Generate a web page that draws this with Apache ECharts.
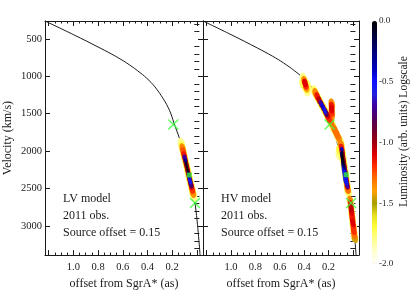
<!DOCTYPE html>
<html><head><meta charset="utf-8">
<script src="https://cdn.jsdelivr.net/npm/echarts@6/dist/echarts.min.js"></script>
<style>html,body{margin:0;padding:0;background:#fff}#c{width:414px;height:295px}</style>
</head><body><div id="c"></div>
<script>
// ---- data ----
const curveOffset   = [1.23, 1.0, 0.784, 0.66, 0.568, 0.48, 0.406, 0.34, 0.272, 0.22, 0.185, 0.123, 0.069, 0.015, -0.026];
const curveVelocity = [260, 442, 621, 730, 822, 925, 1025, 1140, 1300, 1460, 1625, 1921, 2285, 2693, 3390];

const crossOffset   = [0.191, 0.015];
const crossVelocity = [1643, 2693];
const squareOffset   = [0.061, 0.055];   // LV, HV
const squareVelocity = [2320, 2316];

// emission samples [offset, velocity, log luminosity]
const lvEmission = [
  [0.125,1900,-1.8],[0.118,1950,-1.7],[0.111,2000,-1.7],[0.104,2050,-1.7],[0.097,2100,-1.7],[0.090,2150,-1.7],[0.082,2200,-1.7],[0.075,2250,-1.7],
  [0.068,2300,-1.7],[0.061,2350,-1.7],[0.054,2400,-1.7],[0.047,2450,-1.7],[0.040,2500,-1.7],[0.033,2550,-1.7],[0.026,2600,-1.8],
  [0.116,1960,-1.35],[0.109,2010,-1.25],[0.102,2060,-1.15],[0.095,2110,-1.05],[0.088,2160,-1.0],[0.081,2210,-1.0],[0.074,2260,-1.0],
  [0.067,2310,-1.0],[0.060,2360,-1.0],[0.053,2410,-1.05],[0.045,2460,-1.1],[0.038,2510,-1.2],[0.031,2560,-1.35],
  [0.098,2090,-0.7],[0.092,2130,-0.3],[0.087,2170,-0.1],[0.081,2210,0],[0.075,2250,-0.05],[0.070,2290,-0.2],[0.064,2330,-0.4],
  [0.058,2370,-0.5],[0.053,2410,-0.55],[0.047,2450,-0.8]
];
const hvEmission = [
  // blob near 1100 km/s
  [0.405,1030,-1.8],[0.398,1070,-1.7],[0.390,1110,-1.7],[0.384,1150,-1.7],[0.378,1190,-1.8],[0.410,1100,-1.75],[0.372,1120,-1.75],
  [0.398,1060,-1.35],[0.393,1090,-1.1],[0.388,1120,-1.2],[0.383,1150,-1.4],
  // streak 1200-1650 km/s
  [0.315,1200,-1.75],[0.299,1250,-1.7],[0.282,1300,-1.7],[0.266,1350,-1.7],[0.250,1400,-1.7],[0.233,1450,-1.7],[0.217,1500,-1.7],
  [0.201,1550,-1.7],[0.185,1600,-1.7],[0.168,1650,-1.75],
  [0.308,1220,-1.35],[0.292,1270,-1.15],[0.276,1320,-1.05],[0.259,1370,-1.0],[0.243,1420,-0.95],[0.227,1470,-1.0],[0.211,1520,-1.1],
  [0.195,1570,-1.2],[0.178,1620,-1.3],
  [0.263,1360,-0.7],[0.251,1395,-0.45],[0.240,1430,-0.5],[0.229,1465,-0.55],[0.219,1495,-0.8],
  [0.174,1390,-1.8],[0.174,1470,-1.8],[0.174,1360,-1.35],[0.174,1400,-1.15],[0.174,1440,-1.1],[0.174,1480,-1.2],[0.174,1520,-1.35],
  [0.158,1700,-1.8],[0.140,1760,-1.8],[0.120,1820,-1.8],[0.158,1690,-1.4],[0.145,1730,-1.3],[0.130,1780,-1.3],[0.115,1830,-1.35],
  // main streak 1880-2540 km/s
  [0.100,1880,-1.75],[0.095,1935,-1.7],[0.090,1990,-1.7],[0.085,2045,-1.7],[0.080,2100,-1.7],[0.075,2155,-1.7],[0.070,2210,-1.7],
  [0.065,2265,-1.7],[0.060,2320,-1.7],[0.055,2375,-1.7],[0.050,2430,-1.7],[0.045,2485,-1.7],[0.040,2540,-1.75],[0.108,1990,-1.7],[0.112,2050,-1.8],
  [0.097,1910,-1.35],[0.093,1960,-1.15],[0.088,2010,-1.05],[0.084,2060,-1.0],[0.079,2110,-1.0],[0.075,2160,-1.0],[0.070,2210,-1.0],
  [0.065,2260,-1.0],[0.061,2310,-1.0],[0.056,2360,-1.0],[0.052,2410,-1.0],[0.047,2460,-1.1],[0.043,2510,-1.3],
  [0.091,1980,-0.4],[0.088,2020,-0.1],[0.084,2060,0],[0.080,2100,0],[0.077,2140,-0.05],[0.073,2180,-0.1],[0.069,2220,-0.25],
  [0.066,2260,-0.45],[0.062,2300,-0.5],[0.058,2340,-0.5],[0.055,2380,-0.5],[0.051,2420,-0.55],[0.047,2460,-0.7],
  [0.096,2040,-0.2],[0.092,2080,-0.1],[0.088,2120,-0.1],[0.085,2160,-0.2],[0.081,2200,-0.4],[0.077,2240,-0.5],[0.073,2280,-0.5],
  [0.070,2320,-0.5],[0.066,2360,-0.55],[0.062,2400,-0.6],
  // tail below 2650 km/s
  [0.020,2680,-1.8],[0.015,2760,-1.75],[0.009,2840,-1.75],[0.003,2920,-1.75],[-0.003,3000,-1.75],[-0.009,3080,-1.8],[-0.014,3150,-1.8],
  [0.022,2660,-1.35],[0.018,2710,-1.15],[0.015,2760,-1.05],[0.011,2810,-1.1],[0.007,2860,-1.2],[0.004,2910,-1.15],[0.000,2960,-1.1],
  [-0.004,3010,-1.2],[-0.007,3060,-1.2],[-0.011,3110,-1.3],[-0.015,3160,-1.45]
];

const xMajorTicks = [0.0, 0.2, 0.4, 0.6, 0.8, 1.0, 1.2];
const xLabels = [1.0, 0.8, 0.6, 0.4, 0.2];
const xMinorTicks = [0.05,0.1,0.15,0.25,0.3,0.35,0.45,0.5,0.55,0.65,0.7,0.75,0.85,0.9,0.95,1.05,1.1,1.15];
const yMajorTicks = [500, 1000, 1500, 2000, 2500, 3000];
const yMinorTicks = [300,400,600,700,800,900,1100,1200,1300,1400,1600,1700,1800,1900,2100,2200,2300,2400,2600,2700,2800,2900,3100,3200,3300];
const panelTitles = ['LV model', 'HV model'];
const noteLines = ['2011 obs.', 'Source offset = 0.15'];

const cmap = ['#fffff8','#ffffd0','#ffff90','#ffff40','#e8e020','#a89c00','#ffa000','#ff7000','#ff3000','#e00000','#a00010','#700030','#500060','#4000a0','#2020e0','#1010ff','#0000c0','#000090','#000060','#000030','#000000'];

// ---- layout ----
const FONT = 'Liberation Serif';
const INK = '#1a1a1a';
const panels = [{left:45, width:158}, {left:203, width:156}];
const TOP = 21, H = 243;
const XMIN = -0.05, XMAX = 1.23, YMIN = 260, YMAX = 3390;
const ELLIPSE = 'path://M0,10A5,10 0 1,1 10,10A5,10 0 1,1 0,10Z';

const grids = [], xAxes = [], yAxes = [];
panels.forEach((p, g) => {
  grids.push({left:p.left, top:TOP, width:p.width, height:H, containLabel:false});
  const xb = {gridIndex:g, type:'value', min:XMIN, max:XMAX, inverse:true, splitLine:{show:false}};
  xAxes.push(Object.assign({}, xb, {position:'bottom',
    axisLine:{show:true, onZero:false, lineStyle:{color:INK, width:1}},
    axisTick:{show:true, inside:true, length:5, customValues:xMajorTicks, lineStyle:{color:INK}},
    axisLabel:{show:true, customValues:xLabels, formatter:v=>(+v).toFixed(1), fontFamily:FONT, fontSize:10.5, color:INK, margin:7},
    name:'offset from SgrA* (as)', nameLocation:'middle', nameGap:22, nameTextStyle:{fontFamily:FONT, fontSize:12, color:INK}}));
  xAxes.push(Object.assign({}, xb, {position:'bottom', axisLine:{show:false},
    axisTick:{show:true, inside:true, length:2.5, customValues:xMinorTicks, lineStyle:{color:INK}}, axisLabel:{show:false}}));
  xAxes.push(Object.assign({}, xb, {position:'top',
    axisLine:{show:true, onZero:false, lineStyle:{color:INK, width:1}},
    axisTick:{show:true, inside:true, length:5, customValues:xMajorTicks, lineStyle:{color:INK}}, axisLabel:{show:false}}));
  xAxes.push(Object.assign({}, xb, {position:'top', axisLine:{show:false},
    axisTick:{show:true, inside:true, length:2.5, customValues:xMinorTicks, lineStyle:{color:INK}}, axisLabel:{show:false}}));

  const yb = {gridIndex:g, type:'value', min:YMIN, max:YMAX, inverse:true, splitLine:{show:false}};
  const leftMajor = Object.assign({}, yb, {position:'left',
    axisLine:{show:true, onZero:false, lineStyle:{color:INK, width:1}},
    axisTick:{show:true, inside:true, length:5, customValues:yMajorTicks, lineStyle:{color:INK}},
    axisLabel:{show:g===0, customValues:yMajorTicks, formatter:v=>String(v), fontFamily:FONT, fontSize:10.5, color:INK, margin:3}});
  if (g === 0) Object.assign(leftMajor, {name:'Velocity (km/s)', nameLocation:'middle', nameGap:31, nameRotate:90,
    nameTextStyle:{fontFamily:FONT, fontSize:12, color:INK}});
  yAxes.push(leftMajor);
  yAxes.push(Object.assign({}, yb, {position:'left', axisLine:{show:false},
    axisTick:{show:true, inside:true, length:2.5, customValues:yMinorTicks, lineStyle:{color:INK}}, axisLabel:{show:false}}));
  yAxes.push(Object.assign({}, yb, {position:'right',
    axisLine:{show:true, onZero:false, lineStyle:{color:INK, width:1}},
    axisTick:{show:true, inside:true, length:5, customValues:yMajorTicks, lineStyle:{color:INK}}, axisLabel:{show:false}}));
  yAxes.push(Object.assign({}, yb, {position:'right', axisLine:{show:false},
    axisTick:{show:true, inside:true, length:2.5, customValues:yMinorTicks, lineStyle:{color:INK}}, axisLabel:{show:false}}));
});
// colorbar axis
grids.push({left:372, top:TOP, width:5, height:H});
xAxes.push({gridIndex:2, type:'value', show:false, min:0, max:1});
yAxes.push({gridIndex:2, type:'value', min:-2, max:0, interval:0.5, position:'right',
  axisLine:{show:false}, axisTick:{show:false}, splitLine:{show:false},
  axisLabel:{show:true, formatter:v=>(+v).toFixed(1), fontFamily:FONT, fontSize:9, color:INK, margin:2},
  name:'Luminosity (arb. units) Logscale', nameLocation:'middle', nameRotate:90, nameGap:21,
  nameTextStyle:{fontFamily:FONT, fontSize:11.5, color:INK, padding:[0,0,0,22]}});

const series = [];
const emissions = [lvEmission, hvEmission];
const heatIdx = [];
panels.forEach((p, g) => {
  const xi = g*4, yi = g*4;
  series.push({type:'line', xAxisIndex:xi, yAxisIndex:yi, data:curveOffset.map((o,i)=>[o, curveVelocity[i]]),
    showSymbol:false, smooth:0.4, lineStyle:{color:INK, width:1}, z:2, silent:true});
  heatIdx.push(series.length);
  series.push({type:'scatter', xAxisIndex:xi, yAxisIndex:yi,
    data: emissions[g].slice().sort((a,b)=>a[2]-b[2]),
    symbol:ELLIPSE, symbolRotate:15,
    symbolSize: v => { const w = 2 + 2.9*(-v[2]); return [w, w*1.7]; },
    itemStyle:{opacity:1}, z:3, silent:true});
  series.push({type:'scatter', xAxisIndex:xi, yAxisIndex:yi, data:crossOffset.map((o,i)=>[o, crossVelocity[i]]),
    symbol:'path://M0,0L10,10M10,0L0,10', symbolSize:10,
    itemStyle:{color:'none', borderColor:'#3cff3c', borderWidth:1.5}, z:5, silent:true});
  series.push({type:'scatter', xAxisIndex:xi, yAxisIndex:yi, data:[[squareOffset[g], squareVelocity[g]]],
    symbol:'rect', symbolSize:5, itemStyle:{color:'#33ee33'}, z:5, silent:true});
});

const graphic = [];
panels.forEach((p, g) => {
  const lines = [panelTitles[g]].concat(noteLines);
  lines.forEach((t, k) => {
    graphic.push({type:'text', left:p.left+18, top:193 + k*17,
      style:{text:t, fontFamily:FONT, fontSize:12, fill:INK}});
  });
});

const chart = echarts.init(document.getElementById('c'), null, {renderer:'canvas'});
chart.setOption({
  animation:false,
  backgroundColor:'#fff',
  grid:grids, xAxis:xAxes, yAxis:yAxes, series:series, graphic:graphic,
  visualMap:[{type:'continuous', min:-2, max:0, seriesIndex:heatIdx, dimension:2,
    inRange:{color:cmap}, left:372, top:TOP, itemWidth:5, itemHeight:H, padding:0,
    calculable:false, hoverLink:false, text:null, orient:'vertical'}]
});
</script></body></html>
